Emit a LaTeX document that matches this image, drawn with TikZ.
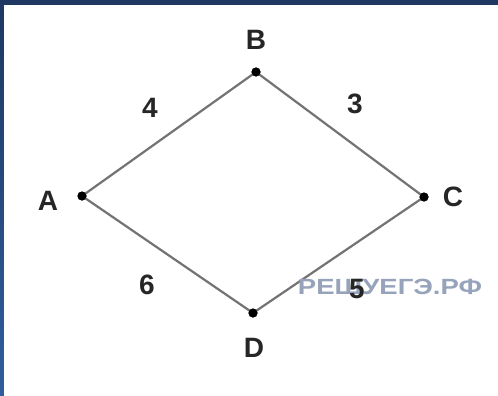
\documentclass[tikz,border=0pt]{standalone}
\usepackage{fontspec}
\setmainfont{Liberation Sans}
\definecolor{navytop}{RGB}{30,56,98}
\definecolor{navybot}{RGB}{47,94,158}
\definecolor{wmgray}{RGB}{150,163,186}
\begin{document}
\begin{tikzpicture}[x=1pt,y=-1pt,
  vdot/.style={circle,fill=black,inner sep=0pt,minimum size=9pt},
  lbl/.style={font=\fontsize{28}{28}\selectfont\bfseries,text=black!85,inner sep=0pt},
  edge/.style={draw=black!55,line width=2.2pt},
  wm/.style={font=\fontsize{22}{22}\selectfont\bfseries,text=wmgray,inner sep=0pt,xscale=1.25}]
\useasboundingbox (0,0) rectangle (498,396);
\shade[top color=navytop,bottom color=navybot] (0,0) rectangle (4,396);
\fill[navytop] (0,0) rectangle (498,5);
\fill[white] (4,5) rectangle (498,396);
\node[vdot] (A) at (82,196) {};
\node[vdot] (B) at (256,72) {};
\node[vdot] (C) at (424,197) {};
\node[vdot] (D) at (253,313) {};
\draw[edge] (A.center) -- (B.center) -- (C.center) -- (D.center) -- (A.center);
\node[vdot] at (A) {};
\node[vdot] at (B) {};
\node[vdot] at (C) {};
\node[vdot] at (D) {};
\node[lbl] (lA) at (48,201) {A};
\node[lbl] (lB) at (256,40) {B};
\node[lbl] (lC) at (453,197) {C};
\node[lbl] (lD) at (254,348) {D};
\node[lbl] (w4) at (150,108) {4};
\node[lbl] (w3) at (355,104) {3};
\node[lbl] (w6) at (147,285) {6};
\node[wm] (wm) at (390,287) {РЕШУЕГЭ.РФ};
\node[lbl] (w5) at (357,289) {5};
\end{tikzpicture}
\end{document}
